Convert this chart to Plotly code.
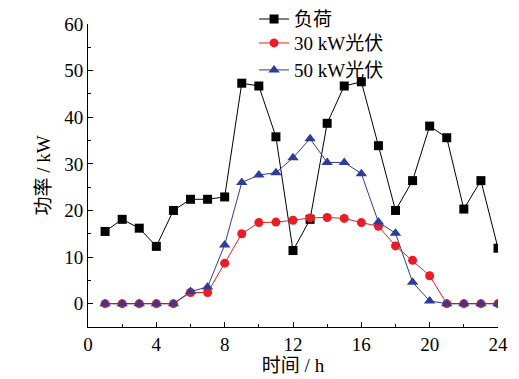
import plotly.graph_objects as go

hours = list(range(1, 25))
load = [15.5, 18.1, 16.2, 12.3, 20.0, 22.4, 22.4, 22.9, 47.3, 46.7, 35.8, 11.4,
        18.1, 38.7, 46.7, 47.6, 33.9, 20.0, 26.4, 38.1, 35.6, 20.3, 26.4, 11.9]
pv30 = [0, 0, 0, 0, 0, 2.4, 2.4, 8.7, 15.0, 17.4, 17.5, 17.9,
        18.4, 18.5, 18.3, 17.4, 16.6, 12.4, 9.3, 6.0, 0, 0, 0, 0]
pv50 = [0, 0, 0, 0, 0, 2.6, 3.6, 12.6, 26.0, 27.6, 28.1, 31.3,
        35.4, 30.3, 30.3, 27.9, 17.5, 15.1, 4.6, 0.6, 0, 0, 0, 0]
x_ticks = [0, 4, 8, 12, 16, 20, 24]
y_ticks = [0, 10, 20, 30, 40, 50, 60]
names = ["负荷", "30 kW光伏", "50 kW光伏"]

FONT = "Liberation Serif, Times New Roman, Noto Sans CJK SC, serif"
FS = 19

fig = go.Figure()
fig.add_trace(go.Scatter(x=hours, y=load, name=names[0], mode="lines+markers",
                         legend="legend",
                         line=dict(color="#000000", width=1),
                         marker=dict(symbol="square", size=9, color="#000000")))
fig.add_trace(go.Scatter(x=hours, y=pv30, name=names[1], mode="lines+markers",
                         legend="legend2",
                         line=dict(color="#ec1c24", width=1),
                         marker=dict(symbol="circle", size=9, color="#ec1c24")))
fig.add_trace(go.Scatter(x=hours, y=pv50, name=names[2], mode="lines+markers",
                         legend="legend3",
                         line=dict(color="#2e3d98", width=1),
                         marker=dict(symbol="triangle-up", size=10, color="#2e3d98")))

leg_common = dict(x=0.405, xanchor="left", yanchor="middle",
                  bgcolor="rgba(0,0,0,0)", font=dict(family=FONT, size=FS),
                  itemsizing="trace")

fig.update_layout(
    width=511, height=371,
    margin=dict(l=80, r=21, t=16, b=52, autoexpand=False),
    paper_bgcolor="white", plot_bgcolor="white",
    font=dict(family=FONT, size=FS, color="#000000"),
    showlegend=True,
    legend=dict(y=1.016, **leg_common),
    legend2=dict(y=0.937, **leg_common),
    legend3=dict(y=0.848, **leg_common),
)
fig.update_xaxes(range=[0, 24], tickvals=x_ticks, ticktext=[str(v) for v in x_ticks],
                 automargin=False,
                 showgrid=False, zeroline=False, showline=True, linecolor="#000",
                 linewidth=1, ticks="inside", ticklen=5, tickcolor="#000",
                 minor=dict(dtick=2, ticks="inside", ticklen=3, tickcolor="#000", showgrid=False),
                 title=dict(text="时间 / h", font=dict(family=FONT, size=FS), standoff=0),
                 tickfont=dict(family=FONT, size=FS))
fig.update_yaxes(range=[-5, 60], tickvals=y_ticks, ticktext=[str(v) for v in y_ticks],
                 automargin=False,
                 showgrid=False, zeroline=False, showline=True, linecolor="#000",
                 linewidth=1, ticks="inside", ticklen=5, tickcolor="#000",
                 minor=dict(tickvals=[5, 15, 25, 35, 45, 55], ticks="inside", ticklen=3,
                            tickcolor="#000", showgrid=False),
                 title=dict(text="功率 / kW", font=dict(family=FONT, size=FS), standoff=8),
                 tickfont=dict(family=FONT, size=FS))

fig.write_html("out.html")
